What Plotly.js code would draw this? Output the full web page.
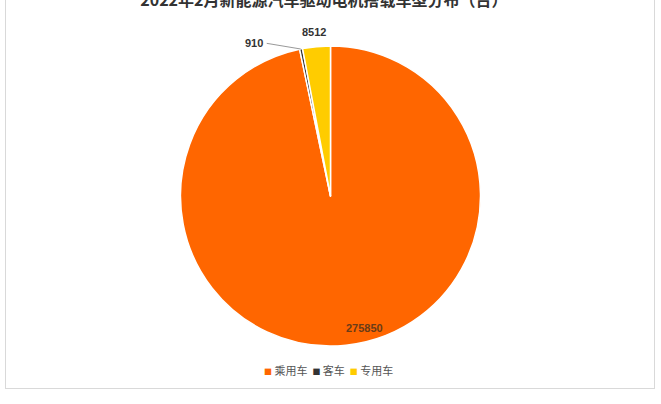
<!DOCTYPE html>
<html>
<head>
<meta charset="utf-8">
<script src="https://cdn.plot.ly/plotly-3.0.1.min.js"></script>
<style>
html,body{margin:0;padding:0;background:#fff;overflow:hidden;}
#wrap{position:relative;width:661px;height:404px;}
#frame{position:absolute;left:5px;top:-10px;width:648px;height:397px;border:1px solid #d9d9d9;pointer-events:none;}
#chart{position:absolute;left:0;top:0;width:661px;height:404px;}
</style>
</head>
<body>
<div id="wrap">
<div id="chart"></div>
<div id="frame"></div>
</div>
<script>
const categories = ["乘用车", "客车", "专用车"];
const values = [275850, 910, 8512];
const colors = ["#FF6600", "#333333", "#FFCC00"];
const titleText = "2022年2月新能源汽车驱动电机搭载车型分布（台）";

const numFont = {family: "Liberation Sans, Arial, sans-serif", size: 11, color: "#333333", weight: "bold"};

const trace = {
  type: "pie",
  labels: categories,
  values: values,
  sort: false,
  direction: "clockwise",
  rotation: 0,
  marker: {colors: colors, line: {color: "#ffffff", width: 1.5}},
  textinfo: "none",
  textposition: "none",
  showlegend: false,
  hoverinfo: "label+value+percent"
};

// legend line built from the categories and colours
const legendText = categories.map((c, i) =>
  '<span style="color:' + colors[i] + ';font-size:8px">■</span> ' + c
).join('  ');

const layout = {
  width: 661,
  height: 404,
  margin: {l: 0, r: 0, t: 46, b: 58},
  paper_bgcolor: "#ffffff",
  title: {
    text: titleText,
    font: {family: "Noto Sans CJK SC, sans-serif", size: 16, color: "#333333", weight: "bold"},
    x: 0.49, xanchor: "center",
    y: 1, yref: "container", yanchor: "middle"
  },
  showlegend: false,
  annotations: [
    {
      text: String(values[0]),
      xref: "paper", yref: "paper",
      x: 0.552, y: 0.06, xanchor: "center", yanchor: "middle",
      showarrow: false,
      font: {family: "Liberation Sans, Arial, sans-serif", size: 11, color: "#6a3c18", weight: "bold"}
    },
    {
      text: String(values[1]),
      xref: "paper", yref: "paper",
      x: 0.455, y: 0.99,
      ax: -36, ay: -6,
      xanchor: "right", yanchor: "middle",
      showarrow: true, arrowhead: 0, arrowwidth: 1, arrowcolor: "#999999",
      standoff: 0, startstandoff: 2,
      font: numFont
    },
    {
      text: String(values[2]),
      xref: "paper", yref: "paper",
      x: 0.475, y: 1.047, xanchor: "center", yanchor: "middle",
      showarrow: false,
      font: numFont
    },
    {
      text: legendText,
      xref: "paper", yref: "paper",
      x: 0.497, y: -0.08, xanchor: "center", yanchor: "middle",
      showarrow: false,
      font: {family: "Noto Sans CJK SC, sans-serif", size: 11, color: "#555555"}
    }
  ]
};

Plotly.newPlot("chart", [trace], layout, {displayModeBar: false, staticPlot: true});
</script>
</body>
</html>
